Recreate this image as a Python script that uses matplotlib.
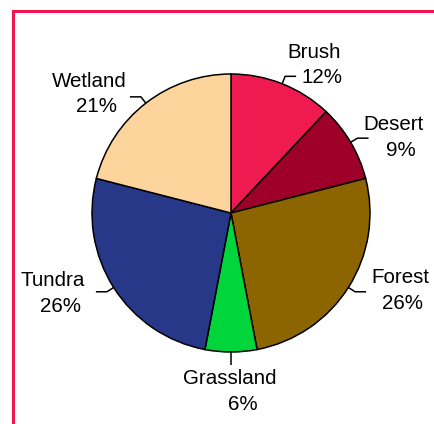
import matplotlib.pyplot as plt
import numpy as np

biomes = ["Brush", "Desert", "Forest", "Grassland", "Tundra", "Wetland"]
shares = [12, 9, 26, 6, 26, 21]
colors = ["#EF1A50", "#9E0029", "#8C6500", "#00D63B", "#283889", "#FDD49C"]

# label placement, pixel coords from top-left: (name x, name baseline, pct x, pct baseline)
label_pos = [
    (314, 58, 322, 83),
    (394, 130, 401, 156),
    (400, 283, 403, 309),
    (230, 384, 243, 410),
    (53, 286, 61, 312),
    (89, 87, 97, 112),
]

W, H = 435, 424
cx, cy, r = 231, H - 213, 139

plt.rcParams['font.family'] = ['Liberation Sans', 'DejaVu Sans']
fig = plt.figure(figsize=(W / 100, H / 100), dpi=100)
ax = fig.add_axes([0, 0, 1, 1])

wedges, _ = ax.pie(shares, colors=colors, startangle=90, counterclock=False,
                   center=(cx, cy), radius=r,
                   wedgeprops=dict(edgecolor='black', linewidth=1.1))
ax.set_xlim(0, W)
ax.set_ylim(0, H)
ax.set_aspect('equal')
ax.axis('off')

# leader lines
for w in wedges:
    mid = np.deg2rad((w.theta1 + w.theta2) / 2)
    c, s = np.cos(mid), np.sin(mid)
    p0 = (cx + r * c, cy + r * s)
    if abs(c) < 0.1:
        p1 = (cx + (r + 13) * c, cy + (r + 13) * s)
        xs, ys = [p0[0], p1[0]], [p0[1], p1[1]]
    else:
        p1 = (cx + (r + 8) * c, cy + (r + 8) * s)
        p2 = (p1[0] + 11 * np.sign(c), p1[1])
        xs, ys = [p0[0], p1[0], p2[0]], [p0[1], p1[1], p2[1]]
    ax.plot(xs, ys, color='black', lw=1.1, solid_capstyle='butt')

for name, pct, (nx, ny, px, py) in zip(biomes, shares, label_pos):
    ax.text(nx, H - ny, name, ha='center', va='baseline', fontsize=14.8)
    ax.text(px, H - py, f"{pct}%", ha='center', va='baseline', fontsize=14.8)

# pink frame (top and left edges visible)
ax.plot([13.3, 13.3, W + 5], [-5, H - 11.3, H - 11.3], color='#EE1551', lw=2.2,
        solid_joinstyle='miter', clip_on=False)

fig.savefig("out.png", dpi=100)
